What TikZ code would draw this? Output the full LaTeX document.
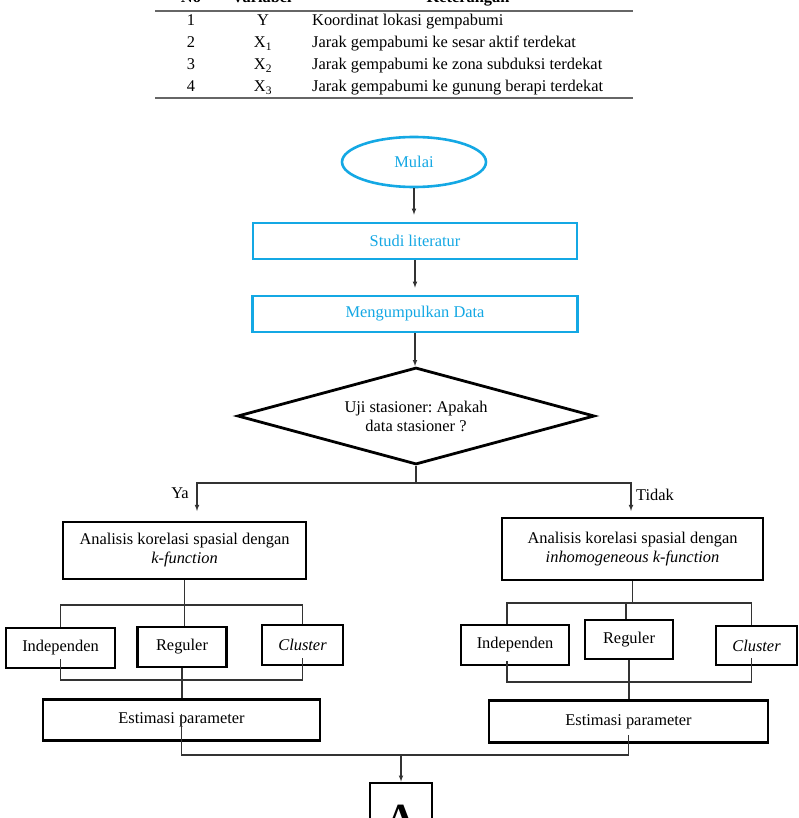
\documentclass[tikz,border=0pt]{standalone}
\usepackage{fontspec}
\setmainfont{Liberation Serif}
\usepackage{tikz}
\usetikzlibrary{arrows,shapes.geometric}
\definecolor{biru}{RGB}{20,168,228}
\frenchspacing

\begin{document}
\begin{tikzpicture}[x=1pt,y=-1pt,
    font=\fontsize{16.4}{19}\selectfont,
    kotak/.style={draw,line width=2.8pt,inner sep=0pt,fill=white,align=center},
    kotakbiru/.style={draw=biru,text=biru,line width=2.6pt,inner sep=0pt,fill=white},
    garis/.style={line width=1.1pt,draw=black!80}]
\useasboundingbox (0,0) rectangle (798,818);
% tabel variabel
\draw[line width=1.3pt,black!60] (155,11) -- (633,11);
\draw[line width=1.3pt,black!60] (155,98) -- (633,98);
\node[anchor=base,font=\fontsize{16.4}{19}\selectfont\bfseries] (hno) at (191,3) {No};
\node[anchor=base,font=\fontsize{16.4}{19}\selectfont\bfseries] (hvar) at (262,3) {Variabel};
\node[anchor=base,font=\fontsize{16.4}{19}\selectfont\bfseries] (hket) at (468,3) {Keterangan};
\foreach \no/\var/\ket [count=\i] in {1/Y/Koordinat lokasi gempabumi,
    2/X\textsubscript{1}/Jarak gempabumi ke sesar aktif terdekat,
    3/X\textsubscript{2}/Jarak gempabumi ke zona subduksi terdekat,
    4/X\textsubscript{3}/Jarak gempabumi ke gunung berapi terdekat}{
  \node[anchor=base] (no\i) at (191,{4+22*\i}) {\no};
  \node[anchor=base] (var\i) at (263,{4+22*\i}) {\var};
  \node[anchor=base west,inner sep=0pt] (ket\i) at (312,{4+22*\i}) {\ket};
}
% diagram alir
\node[kotakbiru,ellipse,minimum width=144pt,minimum height=50pt] (mulai) at (414,162) {Mulai};
\node[kotakbiru,minimum width=324pt,minimum height=36pt] (studi) at (415,241) {Studi literatur};
\node[kotakbiru,minimum width=325pt,minimum height=36pt] (data) at (415,314) {Mengumpulkan Data};
\node[kotak,diamond,aspect=3.68,minimum width=357pt,minimum height=97pt] (uji) at (416,416) {Uji stasioner: Apakah\\data stasioner ?};
\draw[garis,-latex,shorten >=7pt] (mulai.south) -- (mulai.south |- studi.north);
\draw[garis,-latex,shorten >=7pt] (studi.south) -- (studi.south |- data.north);
\draw[garis,-latex] (data.south) -- (data.south |- uji.north);
\coordinate (cabang) at (416,483);
\coordinate (ya) at (197,511);
\coordinate (tidak) at (631,511);
\draw[garis] (uji.south) -- (cabang);
\draw[garis,-latex] (cabang) -| (ya);
\draw[garis,-latex] (cabang) -| (tidak);
\node (lblya) at (180,493) {Ya};
\node (lbltidak) at (655,495) {Tidak};
% cabang kiri
\node[kotak,minimum width=243pt,minimum height=57pt] (anl1) at (184.5,550.5) {Analisis korelasi spasial dengan\\\textit{k-function}};
\node[kotak,minimum width=109pt,minimum height=40pt] (ind1) at (60.5,648) {Independen};
\node[kotak,minimum width=89pt,minimum height=40pt] (reg1) at (182,647) {Reguler};
\node[kotak,minimum width=81pt,minimum height=40pt] (clu1) at (302.5,645) {\textit{Cluster}};
\node[kotak,minimum width=277pt,minimum height=41pt] (est1) at (181.5,720) {Estimasi parameter};
\coordinate (bar1) at (184.5,605);
\coordinate (low1) at (182,680);
\draw[garis] (anl1.south) -- (anl1.south |- reg1.north);
\draw[garis] (ind1.north) |- (bar1) -| (clu1.north);
\draw[garis] ([yshift=10pt]ind1.south) |- (low1) -| ([yshift=8pt]clu1.south);
\draw[garis] (reg1.south) -- (reg1.south |- est1.north);
% cabang kanan
\node[kotak,minimum width=261pt,minimum height=62pt] (anl2) at (632.5,549) {Analisis korelasi spasial dengan\\\textit{inhomogeneous k-function}};
\node[kotak,minimum width=108pt,minimum height=40pt] (ind2) at (515,645) {Independen};
\node[kotak,minimum width=88pt,minimum height=39pt] (reg2) at (629,639.5) {Reguler};
\node[kotak,minimum width=81pt,minimum height=39pt] (clu2) at (756.5,645.5) {\textit{Cluster}};
\node[kotak,minimum width=279pt,minimum height=42pt] (est2) at (628.5,721.5) {Estimasi parameter};
\coordinate (bar2) at (626,603);
\coordinate (low2) at (629,682);
\draw[garis] (anl2.south) |- (bar2) -- (bar2 |- reg2.north);
\draw[garis] ([xshift=-8pt]ind2.north) |- (bar2) -| ([xshift=-5pt]clu2.north);
\draw[garis] ([xshift=-8pt,yshift=5pt]ind2.south) |- (low2) -| ([xshift=-5pt,yshift=8pt]clu2.south);
\draw[garis] (reg2.south) -- (reg2.south |- est2.north);
% gabung ke A
\node[kotak,minimum width=62pt,minimum height=70pt,font=\fontsize{40}{40}\selectfont\bfseries] (hasil) at (401,818) {A};
\coordinate (gabung) at (401,755);
\draw[garis] ([yshift=28pt]est1.south) |- (gabung) -| ([yshift=9pt]est2.south);
\draw[garis,-latex] (gabung) -- (hasil.north);
\end{tikzpicture}
\end{document}
